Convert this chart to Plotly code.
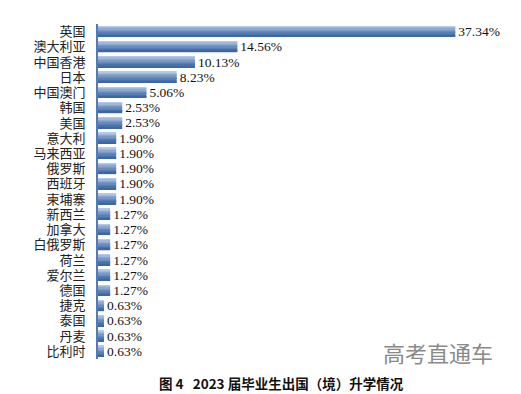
import plotly.graph_objects as go

countries = ["英国", "澳大利亚", "中国香港", "日本", "中国澳门", "韩国", "美国", "意大利",
             "马来西亚", "俄罗斯", "西班牙", "柬埔寨", "新西兰", "加拿大", "白俄罗斯", "荷兰",
             "爱尔兰", "德国", "捷克", "泰国", "丹麦", "比利时"]
shares = [37.34, 14.56, 10.13, 8.23, 5.06, 2.53, 2.53, 1.90, 1.90, 1.90, 1.90, 1.90,
          1.27, 1.27, 1.27, 1.27, 1.27, 1.27, 0.63, 0.63, 0.63, 0.63]

fig = go.Figure()

# gradient bands (light at top -> dark at bottom)
band_colors = ["#b4c9e6", "#9fb8dc", "#8aa8d2", "#7799c7", "#678bbc", "#597eb1", "#4b72a6", "#40679b"]
bar_w = 0.72
n = len(band_colors)
bw = bar_w / n
for i, c in enumerate(band_colors):
    fig.add_trace(go.Bar(
        x=shares, y=countries, orientation="h",
        width=bw, offset=-bar_w / 2 + i * bw,
        marker=dict(color=c, line=dict(width=0)),
        showlegend=False, hoverinfo="skip",
    ))

# value labels
fig.add_trace(go.Bar(
    x=shares, y=countries, orientation="h",
    width=bar_w, marker=dict(color="rgba(0,0,0,0)", line=dict(width=0)),
    text=[f"{v:.2f}%" for v in shares], textposition="outside",
    constraintext="none",
    textfont=dict(family="Liberation Serif", size=13.5, color="#111"),
    cliponaxis=False, showlegend=False, hoverinfo="skip",
))

L, R, T, B = 98, 24, 24, 35
W, H = 521, 394
fig.update_layout(
    width=W, height=H,
    margin=dict(l=L, r=R, t=T, b=B),
    barmode="overlay",
    plot_bgcolor="white", paper_bgcolor="white",
    xaxis=dict(range=[0, 41.7], visible=False),
    yaxis=dict(
        autorange="reversed",
        tickmode="array", tickvals=countries, ticktext=countries,
        showline=True, linecolor="#4f7bbe", linewidth=2,
        showgrid=False, ticks="", ticklabelstandoff=8,
        tickfont=dict(family="Noto Sans CJK SC", size=13, color="#222"),
    ),
    font=dict(family="Noto Sans CJK SC"),
)

pw, ph = W - L - R, H - T - B

def px(x):
    return (x - L) / pw

def py(y):
    return (H - B - y) / ph

fig.add_annotation(text="高考直通车", xref="paper", yref="paper",
                   x=px(438), y=py(352),
                   showarrow=False, xanchor="center", yanchor="middle",
                   font=dict(family="Noto Sans CJK SC", size=22, color="#8a8a8a"))

fig.add_annotation(text="<b>图 4   2023 届毕业生出国（境）升学情况</b>", xref="paper", yref="paper",
                   x=px(281), y=py(383),
                   showarrow=False, xanchor="center", yanchor="middle",
                   font=dict(family="Noto Sans CJK SC", size=13.5, color="#111"))

fig.write_html("out.html", config={"displayModeBar": False},
               post_script="document.body.style.margin='0';")
